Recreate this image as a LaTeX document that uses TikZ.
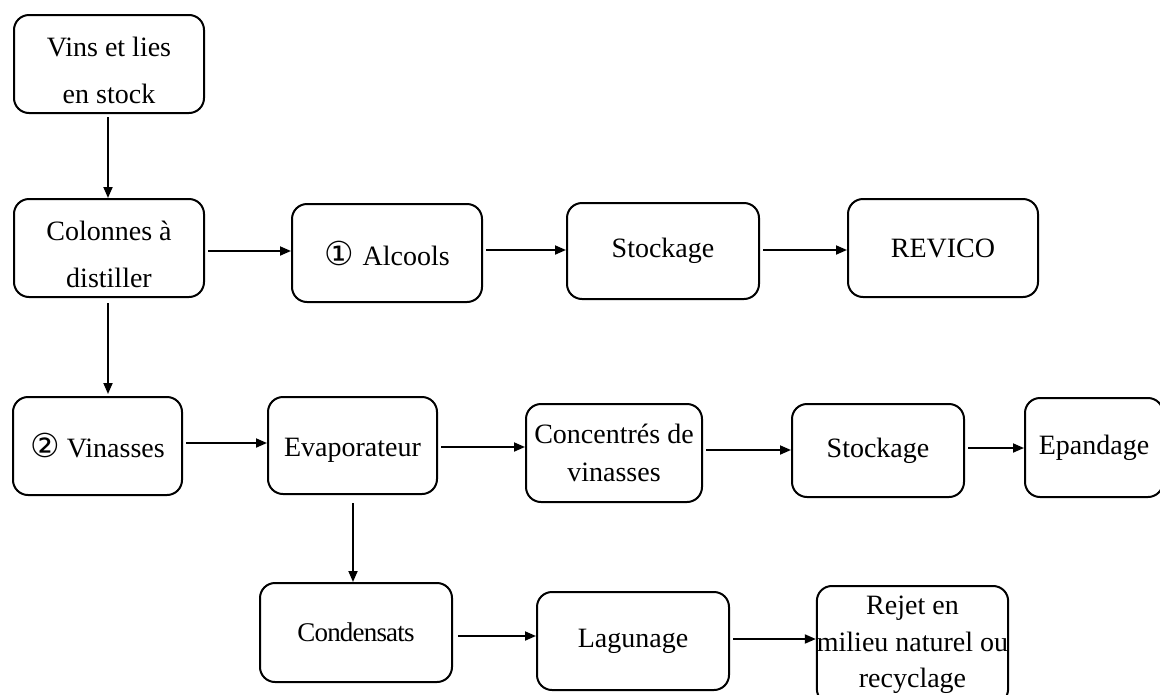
\documentclass[tikz,border=0pt]{standalone}
\usepackage{fontspec}
\setmainfont{Liberation Serif}
\newfontfamily\circfont{DejaVu Sans}
\usetikzlibrary{arrows.meta}
\tikzset{
  box/.style={draw, rounded corners=15pt, line width=2pt, inner sep=0pt, align=center,
    font=\fontsize{28}{38}\selectfont},
  widebox/.style={box, font=\fontsize{28}{47}\selectfont},
  arr/.style={line width=1.8pt, -{Triangle[length=11pt,width=9pt]}, shorten <=3pt},
}
\newcommand{\circd}[1]{{\circfont\fontsize{33}{34}\selectfont #1}}
\begin{document}
\begin{tikzpicture}[x=1pt,y=-1pt]
\useasboundingbox (0,0) rectangle (1160,694);
\begin{scope}
\clip (0,0) rectangle (1160,694);
\node[widebox, minimum width=190pt, minimum height=98pt] (n1) at (109,64) {\rule{0pt}{32pt}Vins et lies\\en stock};
\node[widebox, minimum width=190pt, minimum height=98pt] (n2) at (109,248) {\rule{0pt}{33pt}Colonnes à\\distiller};
\node[box, minimum width=190pt, minimum height=98pt] (n3) at (387,253) {\circd{①}\hspace{9pt}Alcools};
\node[box, minimum width=192pt, minimum height=96pt] (n4) at (663,251) {Stockage};
\node[box, minimum width=190pt, minimum height=98pt] (n5) at (943,248) {REVICO};
\node[box, minimum width=169pt, minimum height=98pt] (n6) at (97.5,446) {\circd{②}\hspace{7pt}Vinasses};
\node[box, minimum width=169pt, minimum height=97pt] (n7) at (352.5,445.5) {\rule{0pt}{28pt}Evaporateur};
\node[box, minimum width=176pt, minimum height=98pt] (n8) at (614,453) {Concentrés de\\vinasses};
\node[box, minimum width=172pt, minimum height=93pt] (n9) at (878,450.5) {Stockage};
\node[box, minimum width=138pt, minimum height=99pt] (n10) at (1094,447.5) {Epandage};
\node[box, minimum width=192pt, minimum height=99pt, font=\fontsize{27}{38}\selectfont] (n11) at (356,632.5) {\addfontfeature{LetterSpace=-3}Condensats};
\node[box, minimum width=192pt, minimum height=98pt] (n12) at (633,641) {Lagunage};
\node[box, minimum width=191pt, minimum height=118pt, font=\fontsize{28}{36.5}\selectfont] (n13) at (912.5,645) {Rejet en\\milieu naturel ou\\recyclage};

\draw[arr] (n1.south -| 108,0) -- (n2.north -| 108,0);
\draw[arr] (n2.east |- 0,251) -- (n3.west |- 0,251);
\draw[arr] (n3.east |- 0,250) -- (n4.west |- 0,250);
\draw[arr] (n4.east |- 0,250) -- (n5.west |- 0,250);
\draw[arr, shorten <=5pt, shorten >=2pt] (n2.south -| 108,0) -- (n6.north -| 108,0);
\draw[arr] (n6.east |- 0,443) -- (n7.west |- 0,443);
\draw[arr] (n7.east |- 0,447) -- (n8.west |- 0,447);
\draw[arr] (n8.east |- 0,450) -- (n9.west |- 0,450);
\draw[arr] (n9.east |- 0,448) -- (n10.west |- 0,448);
\draw[arr, shorten <=8pt] (n7.south -| 353,0) -- (n11.north -| 353,0);
\draw[arr, shorten <=5pt] (n11.east |- 0,636) -- (n12.west |- 0,636);
\draw[arr, shorten <=3pt] (n12.east |- 0,639) -- (n13.west |- 0,639);
\end{scope}
\end{tikzpicture}
\end{document}
